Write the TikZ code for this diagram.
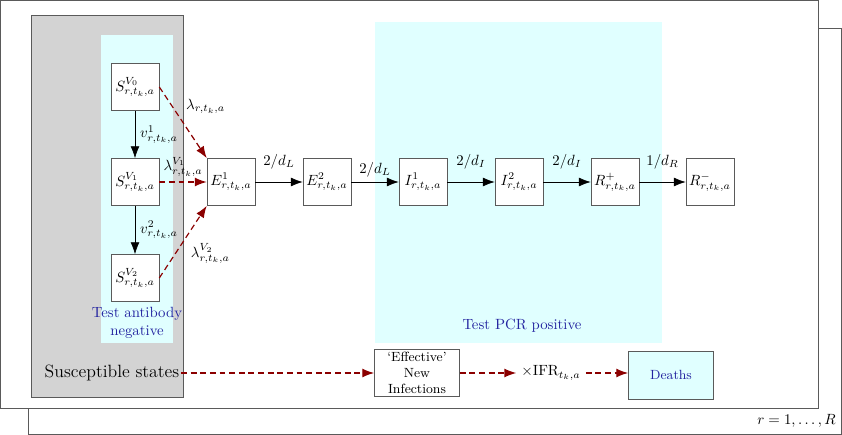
\documentclass[tikz,border=0pt]{standalone}
\usepackage{tikz}
\usetikzlibrary{arrows.meta,positioning}
\definecolor{boxcyan}{RGB}{224,255,255}
\definecolor{boxgray}{RGB}{211,211,211}
\definecolor{labelblue}{RGB}{35,35,160}
\definecolor{infred}{RGB}{139,0,0}
\definecolor{edgegray}{RGB}{90,90,90}

\begin{document}
\begin{tikzpicture}[x=0.02375cm, y=-0.02375cm, >={Latex[length=8pt,width=6pt]},
        comp/.style={draw=edgegray, fill=white, minimum width=1.14cm, minimum height=1.12cm, inner sep=1pt},
        flow/.style={->, draw=infred, thick, dash pattern=on 4pt off 2.5pt},
        regionlabel/.style={text=labelblue, align=center}]
    \useasboundingbox (0,0) rectangle (842,435);
    % stacked plates, one per region r
    \draw[edgegray] (28,28) rectangle (841,434);
    \draw[edgegray, fill=white] (0.5,0.5) rectangle (818,408);
    \node[left, inner sep=2pt] (rrange) at (839,421) {$r=1,\ldots,R$};

    % shaded groups
    \draw[edgegray, fill=boxgray] (31,15) rectangle (183,397);
    \fill[boxcyan] (101,35) rectangle (173,343);
    \fill[boxcyan] (375,22) rectangle (662,343);
    \node[regionlabel] (abneg) at (137,323) {Test antibody\\negative};
    \node[regionlabel] (pcrpos) at (522,326) {Test PCR positive};
    \node[font=\large, inner sep=1pt] (susc) at (112,373) {Susceptible states};

    \newcommand{\compartment}[3]{
        \node[comp] (#1) at (#2) {#3};
    }
    \compartment{S0}{135,87}{$S^{V_0}_{r,t_k,a}$};
    \compartment{S1}{135,182}{$S^{V_1}_{r,t_k,a}$};
    \compartment{S2}{135,278}{$S^{V_2}_{r,t_k,a}$};
    \compartment{E1}{231,182}{$E^1_{r,t_k,a}$};
    \compartment{E2}{327,182}{$E^2_{r,t_k,a}$};
    \compartment{I1}{423,182}{$I^1_{r,t_k,a}$};
    \compartment{I2}{519,182}{$I^2_{r,t_k,a}$};
    \compartment{Rp}{615,182}{$R^+_{r,t_k,a}$};
    \compartment{Rm}{710,182}{$R^-_{r,t_k,a}$};

    % vaccination
    \draw[->] (S0) -- node[right] {$v^1_{r,t_k,a}$} (S1);
    \draw[->] (S1) -- node[right] {$v^2_{r,t_k,a}$} (S2);

    % infection
    \draw[flow] (S0.east) -- node[above right, pos=0.45] {$\lambda_{r,t_k,a}$} (E1.north west);
    \draw[flow] (S1) -- node[above] {$\lambda^{V_1}_{r,t_k,a}$} (E1);
    \draw[flow] (S2.east) -- node[below right, pos=0.55] {$\lambda^{V_2}_{r,t_k,a}$} (E1.south west);

    % progression
    \draw[->] (E1) -- node[above=5pt] {$2/d_L$} (E2);
    \draw[->] (E2) -- node[above] {$2/d_L$} (I1);
    \draw[->] (I1) -- node[above=5pt] {$2/d_I$} (I2);
    \draw[->] (I2) -- node[above=5pt] {$2/d_I$} (Rp);
    \draw[->] (Rp) -- node[above=5pt] {$1/d_R$} (Rm);

    % deaths
    \node[comp, minimum width=2.02cm, font=\small, align=center] (effinf) at (417,373) {`Effective'\\New\\Infections};
    \node (ifr) at (551,373) {$\times\mathrm{IFR}_{t_k,a}$};
    \node[comp, fill=boxcyan, text=labelblue, font=\small, minimum width=2.02cm, minimum height=1.14cm] (deaths) at (671,375) {Deaths};
    \draw[flow] (susc.east) -- (effinf.west);
    \draw[flow] (effinf.east) -- (ifr.west);
    \draw[flow] (ifr.east) -- (deaths.west |- ifr.east);
\end{tikzpicture}
\end{document}
